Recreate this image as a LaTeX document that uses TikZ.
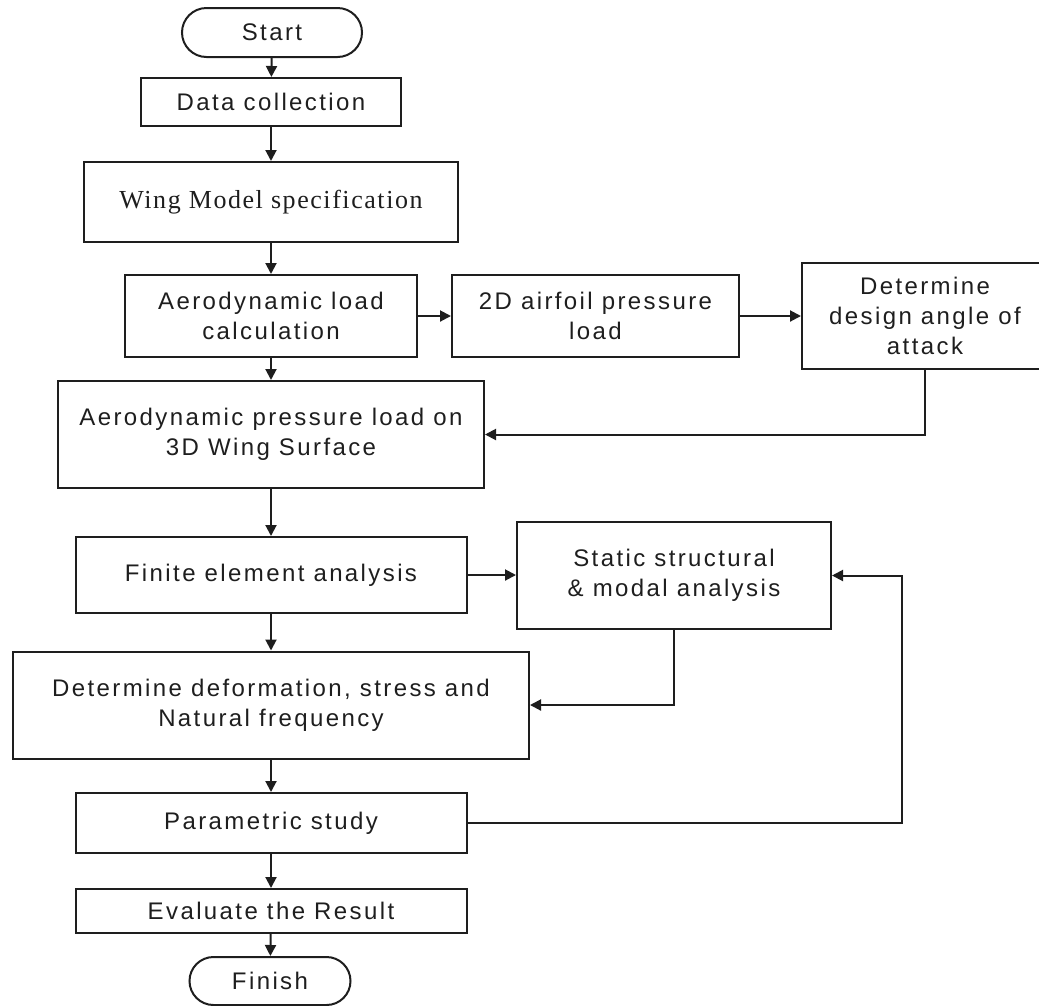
\documentclass[tikz,border=0pt]{standalone}
\usepackage{fontspec}
\setmainfont{Liberation Sans}
\newfontfamily\labelfont{Liberation Sans}[LetterSpace=10]
\newfontfamily\titlefont{Liberation Serif}[LetterSpace=6]
\usetikzlibrary{arrows.meta,shapes.misc}
\definecolor{ink}{HTML}{1E1E1E}

\begin{document}
\begin{tikzpicture}[x=1pt,y=-1pt,
  flow/.style={draw=ink, line width=2pt, -{Triangle[length=11pt,width=11pt]}},
  stepbox/.style={draw=ink, line width=2pt, rectangle, inner sep=0pt, text=ink,
    align=center, font=\labelfont\fontsize{24}{30}\selectfont},
  term/.style={stepbox, rounded rectangle},
]
\useasboundingbox (0,0) rectangle (1039,1005);

% main column
\node[term, minimum width=180pt, minimum height=49pt] (start) at (272,32.5) {Start};
\node[stepbox, minimum width=260pt, minimum height=48pt] (data) at (271,102) {Data collection};
\node[stepbox, minimum width=374pt, minimum height=80pt,
      font=\titlefont\fontsize{26}{30}\selectfont] (wing) at (271,202) {Wing Model specification};
\node[stepbox, minimum width=292pt, minimum height=82pt] (calc) at (271,316)
  {Aerodynamic load\\calculation};
\node[stepbox, minimum width=426pt, minimum height=107pt] (press) at (271,434.5)
  {Aerodynamic pressure load on\\3D Wing Surface};
\node[stepbox, minimum width=391pt, minimum height=76pt] (fea) at (271,575) {Finite element analysis};
\node[stepbox, minimum width=516pt, minimum height=107pt] (deform) at (271,705)
  {Determine deformation, stress and\\Natural frequency};
\node[stepbox, minimum width=391pt, minimum height=60pt] (param) at (271,823) {Parametric study};
\node[stepbox, minimum width=391pt, minimum height=44pt] (eval) at (271,911) {Evaluate the Result};
\node[term, minimum width=161pt, minimum height=48pt] (finish) at (270,981) {Finish};

% side branches
\node[stepbox, minimum width=287pt, minimum height=82pt] (airfoil) at (595.5,316)
  {2D airfoil pressure\\load};
\node[stepbox, minimum width=246pt, minimum height=106pt] (angle) at (925,316)
  {Determine\\design angle of\\attack};
\node[stepbox, minimum width=314pt, minimum height=107pt] (static) at (674,575.5)
  {Static structural\\\& modal analysis};
\coordinate (loop) at (902,823);

% main flow
\draw[flow] (start) -- (data);
\draw[flow] (data) -- (wing);
\draw[flow] (wing) -- (calc);
\draw[flow] (calc) -- (press);
\draw[flow] (press) -- (fea);
\draw[flow] (fea) -- (deform);
\draw[flow] (deform) -- (param);
\draw[flow] (param) -- (eval);
\draw[flow] (eval) -- (finish);

% branches and feedback loops
\draw[flow] (calc) -- (airfoil);
\draw[flow] (airfoil) -- (angle);
\draw[flow] (angle.south) |- (press.east);
\draw[flow] (fea.east) -- (static.west |- fea.east);
\draw[flow] (static.south) |- (deform.east);
\draw[flow] (param.east) -- (loop) |- (static.east);
\end{tikzpicture}
\end{document}
